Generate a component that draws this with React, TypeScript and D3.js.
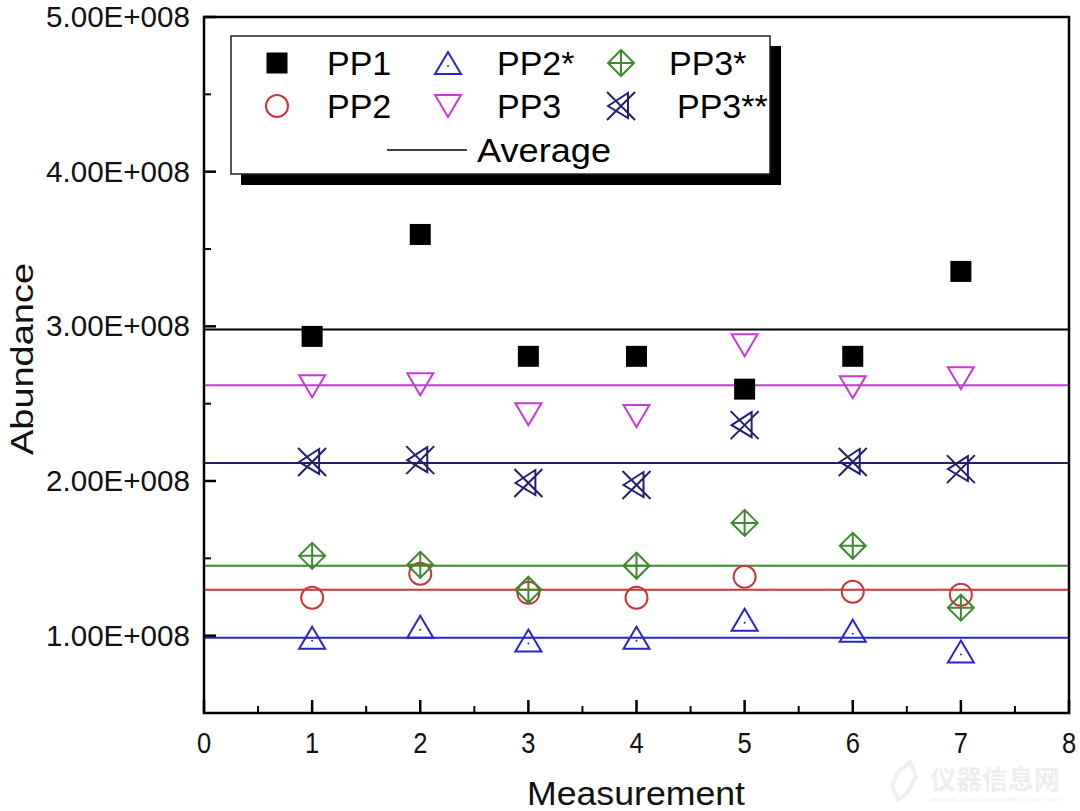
import React from "react";
import * as d3 from "d3";

// ---------- data ----------
const measurements = [1, 2, 3, 4, 5, 6, 7];
const pp1 = [2.935e8, 3.594e8, 2.806e8, 2.806e8, 2.594e8, 2.806e8, 3.355e8];
const pp2 = [1.245e8, 1.40e8, 1.277e8, 1.245e8, 1.381e8, 1.284e8, 1.265e8];
const pp2s = [0.987e8, 1.058e8, 0.968e8, 0.987e8, 1.103e8, 1.032e8, 0.897e8];
const pp3 = [2.613e8, 2.626e8, 2.432e8, 2.42e8, 2.877e8, 2.606e8, 2.665e8];
const pp3s = [1.516e8, 1.458e8, 1.297e8, 1.452e8, 1.729e8, 1.581e8, 1.181e8];
const pp3ss = [2.123e8, 2.135e8, 1.987e8, 1.974e8, 2.361e8, 2.123e8, 2.077e8];
const seriesNames = ["PP1", "PP2", "PP2*", "PP3", "PP3*", "PP3**"];
const averages = [2.98e8, 1.297e8, 0.987e8, 2.619e8, 1.452e8, 2.116e8];
const xTicks = [0, 1, 2, 3, 4, 5, 6, 7, 8];
const yTicks = [1e8, 2e8, 3e8, 4e8, 5e8];
const yTickLabels = ["1.00E+008", "2.00E+008", "3.00E+008", "4.00E+008", "5.00E+008"];

const seriesValues = [pp1, pp2, pp2s, pp3, pp3s, pp3ss];
const seriesColors = ["#000000", "#c8373a", "#2a26c8", "#c83ad8", "#3f8a30", "#22206e"];
const seriesShapes = ["square", "circle", "triUp", "triDown", "diamond", "xtri"];

// ---------- layout ----------
const W = 1080, H = 811;
const L = 204, R = 1069, T = 17, B = 713;

function Marker({ shape, x, y, color }: { shape: string; x: number; y: number; color: string }) {
  const sw = 2;
  const tr = `translate(${x},${y})`;
  switch (shape) {
    case "square":
      return <rect x={x - 10.5} y={y - 10.5} width={21} height={21} fill={color} />;
    case "circle":
      return <circle cx={x} cy={y} r={11} fill="none" stroke={color} strokeWidth={sw} />;
    case "triUp":
      return (
        <g transform={tr}>
          <path d="M0,-11L13,11L-13,11Z" fill="none" stroke={color} strokeWidth={sw} strokeLinejoin="miter" />
          <circle cx={0} cy={3} r={1} fill={color} />
        </g>
      );
    case "triDown":
      return (
        <g transform={tr}>
          <path d="M-13,-11L13,-11L0,11Z" fill="none" stroke={color} strokeWidth={sw} />
        </g>
      );
    case "diamond":
      return (
        <g transform={tr}>
          <path d="M0,-13L13,0L0,13L-13,0Z M0,-13L0,13 M-13,0L13,0" fill="none" stroke={color} strokeWidth={sw} />
        </g>
      );
    case "xtri":
      return (
        <g transform={tr}>
          <path d="M-14,-14L14,14 M-14,14L14,-14 M-13,0L7,-13L7,12Z" fill="none" stroke={color} strokeWidth={sw} />
        </g>
      );
    default:
      return null;
  }
}

export default function App() {
  const x = d3.scaleLinear().domain([0, 8]).range([L, R]);
  const y = d3.scaleLinear().domain([0.5e8, 5e8]).range([B, T]);

  const yMinor = d3.range(0.5e8, 5.0001e8, 0.5e8).filter((v) => Math.round((v / 1e8) * 2) % 2 === 1);
  const xMinor = d3.range(0.5, 8, 1);

  const font = "'Liberation Sans', Arial, sans-serif";

  const legendRows = [
    [0, 2, 4],
    [1, 3, 5],
  ];
  const legSymX = [277, 448, 621];
  const legTextX = [327, 497, 669];
  const legRowY = [63, 106];

  return (
    <svg width={W} height={H} style={{ position: "absolute", left: 0, top: 0, background: "#fff" }} fontFamily={font}>
      <rect x={0} y={0} width={W} height={H} fill="#fff" />

      {/* watermark */}
      <g>
        <text x={930} y={789} fontSize={26} fill="#eeeeee" fontFamily="'Noto Sans CJK SC', sans-serif" fontWeight={700}>
          仪器信息网
        </text>
        <text x={930} y={802} fontSize={8} fill="#f0f0f0" textLength={130} lengthAdjust="spacingAndGlyphs">
          www.instrument.com.cn
        </text>
        <path d="M898,772 L910,762 L916,776 L908,792 L898,800 L892,786 Z" fill="none" stroke="#efefef" strokeWidth={4} />
      </g>

      {/* average lines */}
      {averages.map((a, i) => (
        <line key={"avg" + i} x1={L} x2={R} y1={y(a)} y2={y(a)} stroke={seriesColors[i]} strokeWidth={2} />
      ))}

      {/* markers */}
      {seriesValues.map((vals, si) =>
        vals.map((v, j) => (
          <Marker key={si + "-" + j} shape={seriesShapes[si]} x={x(measurements[j])} y={y(v)} color={seriesColors[si]} />
        ))
      )}

      {/* frame */}
      <rect x={L} y={T} width={R - L} height={B - T} fill="none" stroke="#000" strokeWidth={2.5} />

      {/* y ticks */}
      {yTicks.map((t) => (
        <line key={"yt" + t} x1={L} x2={L + 12} y1={y(t)} y2={y(t)} stroke="#000" strokeWidth={2.5} />
      ))}
      {yMinor.map((t) => (
        <line key={"ym" + t} x1={L} x2={L + 7} y1={y(t)} y2={y(t)} stroke="#000" strokeWidth={2} />
      ))}
      {yTicks.map((t, i) => (
        <text key={"yl" + t} x={190} y={y(t) + 10} fontSize={29} textAnchor="end" textLength={144} lengthAdjust="spacingAndGlyphs" fill="#111">
          {yTickLabels[i]}
        </text>
      ))}

      {/* x ticks */}
      {xTicks.map((t) => (
        <line key={"xt" + t} x1={x(t)} x2={x(t)} y1={B} y2={B - 13} stroke="#000" strokeWidth={2.5} />
      ))}
      {xMinor.map((t) => (
        <line key={"xm" + t} x1={x(t)} x2={x(t)} y1={B} y2={B - 7} stroke="#000" strokeWidth={2} />
      ))}
      {xTicks.map((t) => (
        <text key={"xl" + t} transform={`translate(${x(t)},753) scale(0.85,1)`} fontSize={30} textAnchor="middle" fill="#111">
          {String(t)}
        </text>
      ))}

      {/* axis titles */}
      <text x={527} y={805} fontSize={34} textLength={218} lengthAdjust="spacingAndGlyphs" fill="#111">
        Measurement
      </text>
      <text transform={`translate(33,455) rotate(-90)`} fontSize={31} textLength={192} lengthAdjust="spacingAndGlyphs" fill="#111">
        Abundance
      </text>

      {/* legend */}
      <rect x={241} y={46} width={540} height={139} fill="#000" />
      <rect x={231} y={36} width={539} height={138} fill="#fff" stroke="#222" strokeWidth={1.5} />
      {legendRows.map((row, ri) =>
        row.map((si, ci) => (
          <g key={"lg" + si}>
            <Marker shape={seriesShapes[si]} x={legSymX[ci]} y={legRowY[ri]} color={seriesColors[si]} />
            <text x={ci === 2 && ri === 1 ? 677 : legTextX[ci]} y={legRowY[ri] + 12} fontSize={34} fill="#000">
              {seriesNames[si]}
            </text>
          </g>
        ))
      )}
      <line x1={387} x2={467} y1={150} y2={150} stroke="#000" strokeWidth={1.5} />
      <text x={477} y={162} fontSize={34} fill="#000" textLength={134} lengthAdjust="spacingAndGlyphs">
        Average
      </text>
    </svg>
  );
}
